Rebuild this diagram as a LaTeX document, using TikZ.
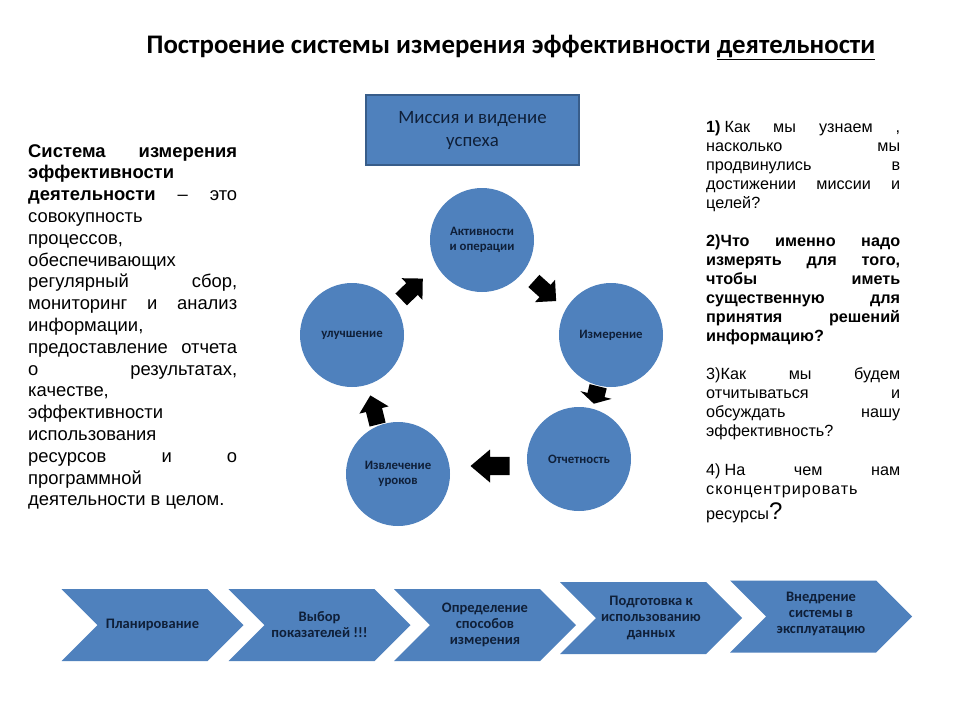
\documentclass[tikz,border=0pt]{standalone}
\usepackage{fontspec}
\usetikzlibrary{calc}
\setmainfont{Carlito}
\newfontfamily\arialf{Liberation Sans}
\definecolor{ofblue}{HTML}{4F81BD}
\definecolor{ofborder}{HTML}{385D8A}
\definecolor{navytext}{HTML}{0F1F38}
\tikzset{
  circ/.style={circle, fill=ofblue, minimum size=104pt, inner sep=0pt, align=center,
    font=\fontsize{12.8}{15}\selectfont\bfseries, text=navytext},
  chevtext/.style={align=center, font=\fontsize{14.5}{16}\selectfont\bfseries, text=navytext, inner sep=0pt},
  chevfill/.style={fill=ofblue},
  arrowfill/.style={fill=black},
  missionbox/.style={rectangle, fill=ofblue, draw=ofborder, line width=1.5pt,
    minimum width=213pt, minimum height=70pt, align=center,
    font=\fontsize{18.8}{23}\selectfont, text=navytext},
}
\newcommand{\chevshape}[5]{% name, cx, cy, w, h
  \fill[chevfill] (#2-#4/2,#3-#5/2) -- (#2+#4/2-#5/2,#3-#5/2) -- (#2+#4/2,#3)
    -- (#2+#4/2-#5/2,#3+#5/2) -- (#2-#4/2,#3+#5/2) -- (#2-#4/2+#5/2,#3) -- cycle;
  \coordinate (#1) at (#2,#3);
}
\newcommand{\blockarrow}[6]{% name, x, y, angle, L, W
  \coordinate (#1) at (#2,#3);
  \begin{scope}[shift={(#1)}, rotate=#4]
    \fill[arrowfill] (-#5/2,-0.275*#6) -- (0,-0.275*#6) -- (0,-#6/2) -- (#5/2,0)
      -- (0,#6/2) -- (0,0.275*#6) -- (-#5/2,0.275*#6) -- cycle;
  \end{scope}
}
\begin{document}
\begin{tikzpicture}[x=1pt,y=-1pt]
\useasboundingbox (0,0) rectangle (960,720);
\fill[white] (0,0) rectangle (960,720);

% title
\node[anchor=base, inner sep=0pt] (title) at (511,53)
  {\fontsize{26.8}{30}\selectfont\bfseries Построение системы измерения эффективности \underline{деятельности}};

% left definition
\node[anchor=base west, inner sep=0pt] (def) at (28,157) {\parbox[t]{209pt}{%
\arialf\fontsize{18.4}{21.8}\selectfont\hyphenpenalty=10000\exhyphenpenalty=10000
\textbf{Система измерения}\linebreak
\textbf{эффективности}\newline
\textbf{деятельности} – это\linebreak
совокупность\newline
процессов,\newline
обеспечивающих\newline
регулярный сбор,\linebreak
мониторинг и анализ\linebreak
информации,\newline
предоставление отчета\linebreak
о результатах,\linebreak
качестве,\newline
эффективности\newline
использования\newline
ресурсов и о\linebreak
программной\newline
деятельности в целом.}};

% right questions
\node[anchor=base west, inner sep=0pt] (quest) at (706,132) {\parbox[t]{194pt}{%
\arialf\fontsize{16.2}{19}\selectfont\hyphenpenalty=10000\exhyphenpenalty=10000
\textbf{1)}\hspace{4pt}Как мы узнаем ,\linebreak
насколько мы\linebreak
продвинулись в\linebreak
достижении миссии и\linebreak
целей?\par\vspace{19pt}
\textbf{2)Что именно надо\linebreak
измерять для того,\linebreak
чтобы иметь\linebreak
существенную для\linebreak
принятия решений\linebreak
информацию?}\par\vspace{19pt}
3)Как мы будем\linebreak
отчитываться и\linebreak
обсуждать нашу\linebreak
эффективность?\par\vspace{20pt}
4)\hspace{4pt}На чем нам\linebreak
{\addfontfeature{LetterSpace=6}сконцентрировать}\\[4pt]
ресурсы{\fontsize{24}{19}\selectfont ?}}};

% mission box
\node[missionbox] (mission) at (472.5,130) {Миссия и видение\\успеха};

% block arrows (drawn first, circles cover them)
\blockarrow{a1}{412}{289}{44}{30}{30}
\blockarrow{a2}{545}{291}{-42}{30}{30}
\blockarrow{a3}{596}{395}{-104}{18}{32}
\blockarrow{a4}{490}{466}{180}{39}{33}
\blockarrow{a5}{374}{410}{104}{30}{30}

% cycle circles
\node[circ] (act) at (482,240) {Активности\\и операции};
\node[circ] (meas) at (611,335) {Измерение};
\node[circ] (rep) at (579,459) {Отчетность};
\node[circ] (less) at (398,474) {Извлечение\\уроков};
\node[circ] (impr) at (352,335) {улучшение};

% process chevrons
\chevshape{c1}{152.5}{625}{182}{72}
\chevshape{c2}{319.5}{625}{182}{72}
\chevshape{c3}{485}{625}{182}{72}
\chevshape{c4}{651}{618}{182}{72}
\chevshape{c5}{821}{616.5}{182}{72}
\node[chevtext] (t1) at (c1) {Планирование};
\node[chevtext] (t2) at (c2) {Выбор\\показателей !!!};
\node[chevtext] (t3) at (c3) {Определение\\способов\\измерения};
\node[chevtext] (t4) at (c4) {Подготовка к\\использованию\\данных};
\node[chevtext] (t5) at ($(c5)+(0,-3)$) {Внедрение\\системы в\\эксплуатацию};
\end{tikzpicture}
\end{document}
